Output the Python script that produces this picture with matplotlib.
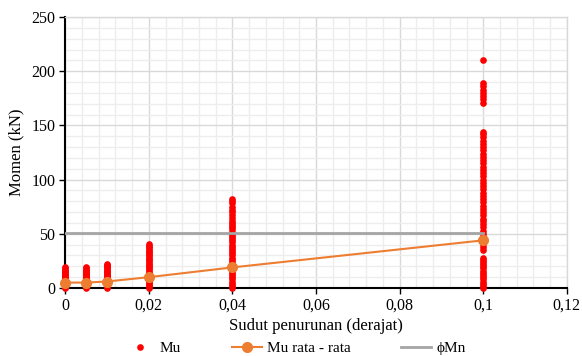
import matplotlib
matplotlib.use("Agg")
import matplotlib.pyplot as plt
from matplotlib.ticker import MultipleLocator, FuncFormatter
from matplotlib.lines import Line2D

# Data Mu per sudut penurunan
mu_000 = [0, 1, 2, 3, 4, 5, 6, 7, 8, 9, 10, 11, 12, 13, 14, 15, 16, 17, 18, 19]
mu_005 = [0, 1, 2, 3, 4, 5, 6, 7, 8, 9, 10, 11, 12, 13, 14, 15, 16, 17, 18, 19]
mu_010 = [0, 1, 2, 3, 4, 5, 6, 7, 8, 9, 10, 11, 12, 13, 14, 15, 16, 17, 18, 19,
          20, 21, 22]
mu_020 = [0, 1.5, 3, 4.5, 6, 7.5, 9, 10.5, 12, 13.5, 15, 16.5, 18, 19.5, 21,
          22.5, 24, 25.5, 27, 28.5, 30, 31.5, 33, 34.5, 36, 37.5, 39, 41]
mu_040 = [0, 2, 4, 6, 8, 10, 12, 14, 16, 18, 20, 22, 24, 26, 28, 30, 32, 34,
          36, 38, 40, 42, 44, 46, 48, 50, 52, 54, 56, 58, 60, 62, 65, 67, 70,
          72, 75, 78, 80, 82]
mu_100 = [0, 2, 4, 6, 8, 10, 12, 14, 16, 18, 20, 22, 24, 26, 28,
          35, 38, 41, 44, 47, 50, 53, 56, 59, 62, 64, 67, 70, 73, 76, 79, 82,
          85, 88, 91, 94, 97, 100, 103, 106, 109, 112, 115, 118, 121, 124,
          127, 130, 133, 136, 139, 142, 144,
          171, 174, 177, 180, 183, 186, 189, 210]

sudut = [0, 0.005, 0.01, 0.02, 0.04, 0.1]
mu_kolom = [mu_000, mu_005, mu_010, mu_020, mu_040, mu_100]
mu_rata = [5, 5, 6, 10, 19, 44]

phi_x = [0, 0.1]
phi_mn = [51, 51]

plt.rcParams['font.family'] = ['Liberation Serif', 'DejaVu Serif']

fig = plt.figure(figsize=(5.82, 3.56), dpi=100)
ax = fig.add_axes([0.112, 0.191, 0.862, 0.761])

# Titik Mu
for x, vals in zip(sudut, mu_kolom):
    ax.plot([x] * len(vals), vals, 'o', color='#ff0000', markersize=4.8,
            markeredgewidth=0, zorder=3, clip_on=False)

ax.plot(phi_x, phi_mn, color='#a5a5a5', linewidth=2.0, zorder=4)
ax.plot(sudut, mu_rata, '-o', color='#ed7d31', linewidth=1.5, markersize=7,
        zorder=5, clip_on=False)

ax.set_xlim(0, 0.12)
ax.set_ylim(0, 250)
ax.xaxis.set_major_locator(MultipleLocator(0.02))
ax.xaxis.set_minor_locator(MultipleLocator(0.004))
ax.yaxis.set_major_locator(MultipleLocator(50))
ax.yaxis.set_minor_locator(MultipleLocator(10))

def koma(v, pos):
    s = ('%.2f' % v).rstrip('0').rstrip('.')
    return s.replace('.', ',')

ax.xaxis.set_major_formatter(FuncFormatter(koma))

ax.grid(which='major', color='#d9d9d9', linewidth=1.0)
ax.grid(which='minor', color='#ededed', linewidth=1.0)
ax.set_axisbelow(True)

for s in ['top', 'right']:
    ax.spines[s].set_color('#d9d9d9')
    ax.spines[s].set_linewidth(1.0)
for s in ['left', 'bottom']:
    ax.spines[s].set_color('black')
    ax.spines[s].set_linewidth(1.5)

ax.tick_params(which='major', direction='out', length=4, width=1,
               labelsize=11.5, pad=3)
ax.tick_params(which='minor', length=0)

ax.set_xlabel('Sudut penurunan (derajat)', fontsize=12, labelpad=3)
ax.set_ylabel('Momen (kN)', fontsize=12, labelpad=5)

handles = [
    Line2D([], [], linestyle='none', marker='o', color='#ff0000',
           markersize=4.8, markeredgewidth=0),
    Line2D([], [], color='#ed7d31', linewidth=1.5, marker='o', markersize=7),
    Line2D([], [], color='#a5a5a5', linewidth=2.0),
]
fig.legend(handles, ['Mu', 'Mu rata - rata', '\u03d5Mn'], loc='center',
           bbox_to_anchor=(0.507, 0.022), ncol=3, frameon=False, fontsize=11,
           columnspacing=3.3, handlelength=2.0, handletextpad=0.3)

fig.savefig('out.png', dpi=100)
